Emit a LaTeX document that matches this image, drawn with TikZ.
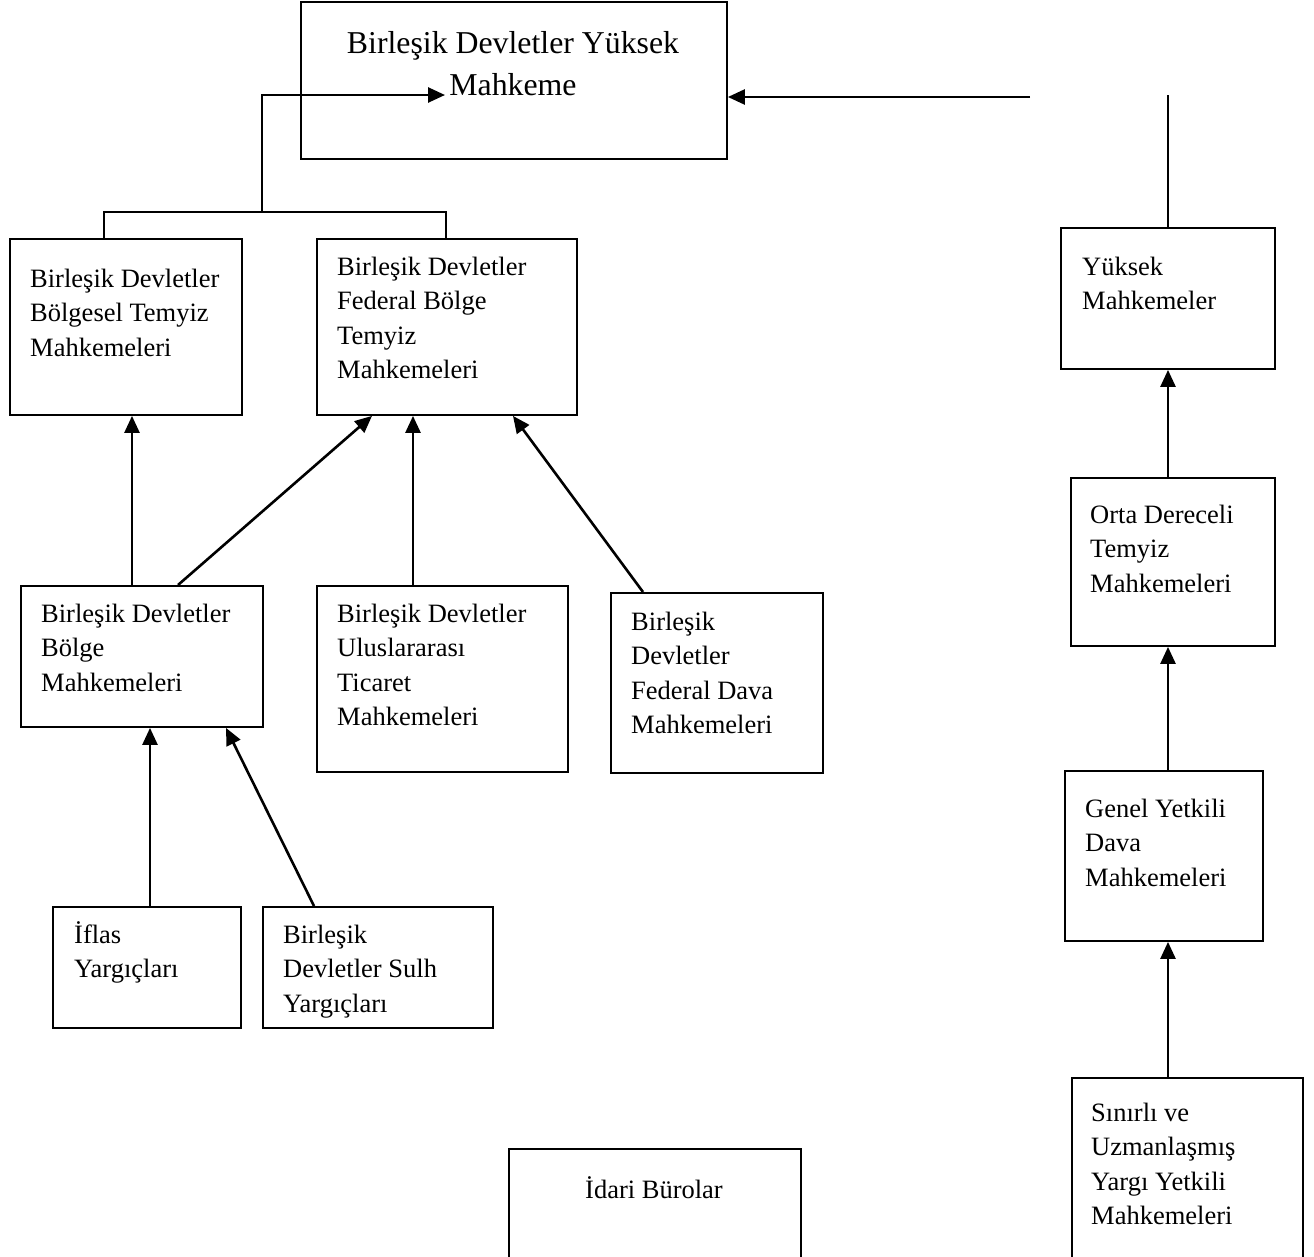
\documentclass[tikz,border=0pt]{standalone}
\usepackage{fontspec}
\setmainfont{Liberation Serif}
\usetikzlibrary{arrows.meta}

\begin{document}
\begin{tikzpicture}[x=1pt,y=-1pt,
  kutu/.style={draw,line width=1.9pt,rectangle,inner sep=0pt,anchor=north west},
  yazi/.style={anchor=north west,inner sep=0pt,align=left,font=\fontsize{26.5}{34.5}\selectfont},
  buyuk/.style={anchor=north,inner sep=0pt,align=center,font=\fontsize{31.8}{42}\selectfont},
  ok/.style={line width=2.6pt,-{Triangle[length=17pt,width=15pt]}},
  cizgi/.style={line width=1.9pt}]
%%%
% sayfa
%%%
\useasboundingbox (0,0) rectangle (1314,1256);
\clip (0,0) rectangle (1314,1256);

%%%
% kutular
%%%
\node[kutu,minimum width=426pt,minimum height=157pt] (ust) at (300,1) {};
\node[kutu,minimum width=232pt,minimum height=176pt] (bt) at (9,238) {};
\node[kutu,minimum width=260pt,minimum height=176pt] (ft) at (316,238) {};
\node[kutu,minimum width=242pt,minimum height=141pt] (bm) at (20,585) {};
\node[kutu,minimum width=251pt,minimum height=186pt] (ut) at (316,585) {};
\node[kutu,minimum width=212pt,minimum height=180pt] (fd) at (610,592) {};
\node[kutu,minimum width=188pt,minimum height=121pt] (iy) at (52,906) {};
\node[kutu,minimum width=230pt,minimum height=121pt] (sy) at (262,906) {};
\node[kutu,minimum width=292pt,minimum height=140pt] (ib) at (508,1148) {};
\node[kutu,minimum width=214pt,minimum height=141pt] (ym) at (1060,227) {};
\node[kutu,minimum width=204pt,minimum height=168pt] (od) at (1070,477) {};
\node[kutu,minimum width=198pt,minimum height=170pt] (gy) at (1064,770) {};
\node[kutu,minimum width=231pt,minimum height=200pt] (sm) at (1071,1077) {};

%%%
% yazilar
%%%
\node[buyuk] (ustYazi) at (513,23.6) {\strut Birleşik Devletler Yüksek\\Mahkeme};
\node[yazi] (btYazi) at (30,263) {\strut Birleşik Devletler\\Bölgesel Temyiz\\Mahkemeleri};
\node[yazi] (ftYazi) at (337,251) {\strut Birleşik Devletler\\Federal Bölge\\Temyiz\\Mahkemeleri};
\node[yazi] (bmYazi) at (41,598) {\strut Birleşik Devletler\\Bölge\\Mahkemeleri};
\node[yazi] (utYazi) at (337,598) {\strut Birleşik Devletler\\Uluslararası\\Ticaret\\Mahkemeleri};
\node[yazi] (fdYazi) at (631,606) {\strut Birleşik\\Devletler\\Federal Dava\\Mahkemeleri};
\node[yazi] (iyYazi) at (74,919) {\strut İflas\\Yargıçları};
\node[yazi] (syYazi) at (283,919) {\strut Birleşik\\Devletler Sulh\\Yargıçları};
\node[yazi,anchor=north,align=center] (ibYazi) at (654,1174) {\strut İdari Bürolar};
\node[yazi] (ymYazi) at (1082,251) {\strut Yüksek\\Mahkemeler};
\node[yazi] (odYazi) at (1090,499) {\strut Orta Dereceli\\Temyiz\\Mahkemeleri};
\node[yazi] (gyYazi) at (1085,793) {\strut Genel Yetkili\\Dava\\Mahkemeleri};
\node[yazi] (smYazi) at (1091,1097) {\strut Sınırlı ve\\Uzmanlaşmış\\Yargı Yetkili\\Mahkemeleri};

%%%
% baglantilar
%%%
\coordinate (kol) at (262,212);
\coordinate (ustOk) at (445,95);
\coordinate (sagUc) at (1030,97);
\coordinate (sagUst) at (1168,95);

\draw[cizgi] ([xshift=95pt]bt.north west) |- (kol) -| ([xshift=130pt]ft.north west);
\draw[ok] (kol) |- (ustOk);
\draw[ok] (sagUc) -- (ust.east |- sagUc);
\draw[cizgi] ([xshift=108pt]ym.north west) -- (sagUst);

\draw[ok] ([xshift=112pt]bm.north west) -- ([xshift=123pt]bt.south west);
\draw[ok] ([xshift=158pt]bm.north west) -- ([xshift=56pt]ft.south west);
\draw[ok] ([xshift=97pt]ut.north west) -- ([xshift=97pt]ft.south west);
\draw[ok] ([xshift=33pt]fd.north west) -- ([xshift=197pt]ft.south west);
\draw[ok] ([xshift=98pt]iy.north west) -- ([xshift=130pt]bm.south west);
\draw[ok] ([xshift=52pt]sy.north west) -- ([xshift=206pt]bm.south west);

\draw[ok] ([xshift=97pt]sm.north west) -- ([xshift=104pt]gy.south west);
\draw[ok] ([xshift=104pt]gy.north west) -- ([xshift=98pt]od.south west);
\draw[ok] ([xshift=98pt]od.north west) -- ([xshift=108pt]ym.south west);
\end{tikzpicture}
\end{document}
